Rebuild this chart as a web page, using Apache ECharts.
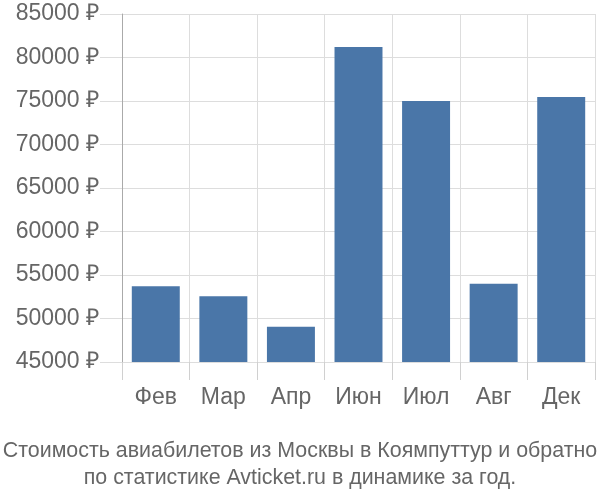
<!DOCTYPE html>
<html><head><meta charset="utf-8">
<script src="https://cdn.jsdelivr.net/npm/echarts@6/dist/echarts.min.js"></script>
<style>html,body{margin:0;padding:0;background:#fff}#c{width:600px;height:500px}</style>
</head><body><div id="c"></div>
<script>
const categories = ['Фев','Мар','Апр','Июн','Июл','Авг','Дек'];
const prices = [53700, 52550, 49060, 81200, 75000, 54000, 75460];
const yMin = 45000, yMax = 85000, yStep = 5000;
const titleLines = ['Стоимость авиабилетов из Москвы в Коямпуттур и обратно','по статистике Avticket.ru в динамике за год.'];

const chart = echarts.init(document.getElementById('c'));
chart.setOption({
  animation:false,
  title:{text:titleLines.join('\n'),left:'center',top:433,
    textStyle:{fontFamily:'Liberation Sans',fontSize:21.4,fontWeight:'normal',color:'#666',lineHeight:27}},
  grid:{left:122,right:5,top:14,bottom:138},
  xAxis:{type:'category',data:categories,
    axisLine:{show:false},
    axisTick:{show:true,length:18,interval:0,lineStyle:{color:'#d0d0d0'}},
    splitLine:{show:true,interval:0,lineStyle:{color:'#ddd',width:1}},
    axisLabel:{margin:24,fontFamily:'Liberation Sans',fontSize:23,color:'#666'}},
  yAxis:{type:'value',min:yMin,max:yMax,interval:yStep,
    axisLine:{show:true,lineStyle:{color:'#aaa',width:1}},
    axisTick:{show:true,length:22,lineStyle:{color:'#ddd'}},
    splitLine:{lineStyle:{color:'#ddd',width:1}},
    axisLabel:{margin:23,fontFamily:'Liberation Sans',fontSize:23,color:'#666',formatter:v=>v+' ₽'}},
  series:[{type:'bar',data:prices,barCategoryGap:'29%',itemStyle:{color:'#4a76a8'}}]
});
</script></body></html>
